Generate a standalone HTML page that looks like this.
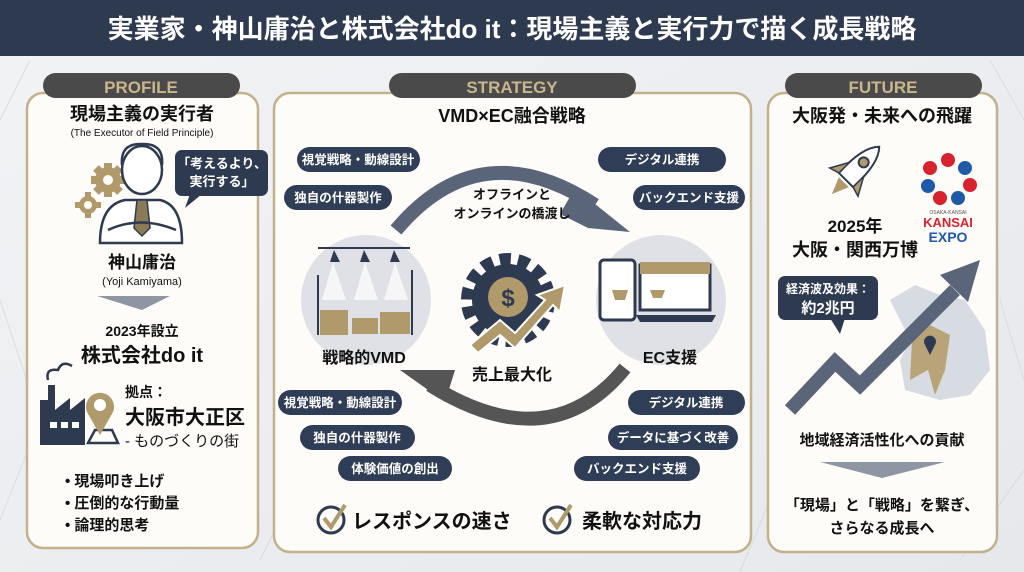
<!DOCTYPE html>
<html><head><meta charset="utf-8"><style>
html,body{margin:0;padding:0;width:1024px;height:572px;overflow:hidden;background:#eef0f3}
svg{display:block}
text{font-family:"Liberation Sans","Noto Sans CJK JP",sans-serif;}
</style></head><body>
<svg width="1024" height="572" viewBox="0 0 1024 572" xmlns="http://www.w3.org/2000/svg">
<defs>
<linearGradient id="bg" x1="0" y1="0" x2="1" y2="1"><stop offset="0" stop-color="#f2f3f5"/><stop offset="1" stop-color="#e6e8ec"/></linearGradient>
</defs>
<rect width="1024" height="572" fill="url(#bg)"/>
<g stroke="#d3d7de" stroke-width="1" fill="none" opacity="0.8">
<path d="M0 300 L40 420 L0 520 M0 120 L30 60 M990 60 L1024 120 M1000 300 L1024 380 M260 560 L300 480 M740 572 L770 500 M960 560 L1024 470"/>
</g>
<!-- header -->
<rect x="0" y="0" width="1024" height="56" fill="#2d3a50"/>
<text x="512" y="38" text-anchor="middle" font-size="26" font-weight="bold" fill="#fff">実業家・神山庸治と株式会社do it：現場主義と実行力で描く成長戦略</text>

<!-- panels -->
<rect x="27" y="93" width="231" height="455" rx="16" fill="#fdfcf9" stroke="#c4b08a" stroke-width="2.5"/>
<rect x="274" y="93" width="477" height="459" rx="16" fill="#fdfcf9" stroke="#c4b08a" stroke-width="2.5"/>
<rect x="768" y="93" width="229" height="459" rx="16" fill="#fdfcf9" stroke="#c4b08a" stroke-width="2.5"/>
<rect x="43" y="73" width="197" height="25" rx="12.5" fill="#4a4a4a"/>
<text x="141" y="93" text-anchor="middle" font-size="17" font-weight="bold" fill="#c9b68d">PROFILE</text>
<rect x="389" y="73" width="247" height="25" rx="12.5" fill="#4a4a4a"/>
<text x="512" y="93" text-anchor="middle" font-size="17" font-weight="bold" fill="#c9b68d">STRATEGY</text>
<rect x="785" y="73" width="197" height="25" rx="12.5" fill="#4a4a4a"/>
<text x="883" y="93" text-anchor="middle" font-size="17" font-weight="bold" fill="#c9b68d">FUTURE</text>

<!-- LEFT -->
<text x="142" y="120" text-anchor="middle" font-size="18" font-weight="bold" fill="#111">現場主義の実行者</text>
<text x="142" y="136" text-anchor="middle" font-size="10" fill="#111">(The Executor of Field Principle)</text>
<!-- gears -->
<g fill="#b09a6b">
<circle cx="108" cy="180" r="13"/>
<rect x="104" y="163" width="8" height="34"/><rect x="91" y="176" width="34" height="8"/>
<rect x="104" y="163" width="8" height="34" transform="rotate(45 108 180)"/><rect x="91" y="176" width="34" height="8" transform="rotate(45 108 180)"/>
<circle cx="88" cy="205" r="9"/>
<rect x="85" y="192" width="6" height="26"/><rect x="75" y="202" width="26" height="6"/>
</g>
<circle cx="108" cy="180" r="5" fill="#fdfcf9"/><circle cx="88" cy="205" r="4" fill="#fdfcf9"/>
<!-- person -->
<g fill="#fff" stroke="#2d3a50" stroke-width="2.5">
<path d="M100 243 Q100 205 125 200 L160 200 Q182 205 182 243 Z"/>
<ellipse cx="142" cy="170" rx="20" ry="24"/>
<path d="M122 165 Q120 143 142 144 Q164 143 162 165" fill="none"/>
</g>
<path d="M137 200 L147 200 L150 228 L142 236 L134 228Z" fill="#8a7a55" stroke="#2d3a50" stroke-width="1.5"/>
<path d="M108 230 Q140 215 176 230" fill="none" stroke="#2d3a50" stroke-width="2.5"/>
<!-- bubble -->
<rect x="175" y="150" width="93" height="46" rx="7" fill="#2d3a50"/>
<path d="M190 194 L185 208 L202 194Z" fill="#2d3a50"/>
<text x="222" y="168" text-anchor="middle" font-size="13" font-weight="bold" fill="#fff">「考えるより、</text>
<text x="222" y="186" text-anchor="middle" font-size="13" font-weight="bold" fill="#fff">実行する」</text>
<text x="142" y="268" text-anchor="middle" font-size="17" font-weight="bold" fill="#111">神山庸治</text>
<text x="142" y="285" text-anchor="middle" font-size="11" fill="#111">(Yoji Kamiyama)</text>
<path d="M97 296 L170 296 L142 310Z" fill="#8f96a3"/>
<text x="142" y="336" text-anchor="middle" font-size="14" font-weight="bold" fill="#111">2023年設立</text>
<text x="142" y="362" text-anchor="middle" font-size="20" font-weight="bold" fill="#111">株式会社do it</text>
<!-- factory -->
<path d="M40 445 L40 400 L48 400 L48 385 L55 385 L55 410 L70 398 L70 410 L85 398 L85 445Z" fill="#2d3a50"/>
<path d="M48 380 Q45 368 58 370 Q62 360 72 366" fill="none" stroke="#2d3a50" stroke-width="2.5"/>
<rect x="50" y="422" width="7" height="6" fill="#fff"/><rect x="61" y="422" width="7" height="6" fill="#fff"/><rect x="72" y="422" width="7" height="6" fill="#fff"/>
<path d="M88 443 L95 430 L112 430 L118 443Z" fill="none" stroke="#2d3a50" stroke-width="2.5"/>
<path d="M100 435 L87 412 A14 14 0 1 1 113 412Z" fill="#b09a6b"/><circle cx="100" cy="405" r="6" fill="#fff"/>
<text x="125" y="397" font-size="14" font-weight="bold" fill="#111">拠点：</text>
<text x="125" y="424" font-size="20" font-weight="bold" fill="#111">大阪市大正区</text>
<text x="125" y="446" font-size="15" fill="#111">- ものづくりの街</text>
<g font-size="15" font-weight="bold" fill="#111">
<text x="65" y="486">•  現場叩き上げ</text>
<text x="65" y="508">•  圧倒的な行動量</text>
<text x="65" y="530">•  論理的思考</text>
</g>

<!-- MIDDLE -->
<text x="512" y="122" text-anchor="middle" font-size="18" font-weight="bold" fill="#111">VMD×EC融合戦略</text>
<g fill="#2f3e56">
<rect x="297" y="147" width="123" height="25" rx="12.5"/>
<rect x="284" y="185" width="108" height="25" rx="12.5"/>
<rect x="598" y="147" width="128" height="25" rx="12.5"/>
<rect x="633" y="185" width="112" height="25" rx="12.5"/>
<rect x="278" y="390" width="124" height="25" rx="12.5"/>
<rect x="300" y="425" width="115" height="25" rx="12.5"/>
<rect x="338" y="456" width="114" height="25" rx="12.5"/>
<rect x="628" y="390" width="117" height="25" rx="12.5"/>
<rect x="608" y="425" width="130" height="25" rx="12.5"/>
<rect x="574" y="456" width="126" height="25" rx="12.5"/>
</g>
<g font-size="12.5" font-weight="bold" fill="#fff" text-anchor="middle">
<text x="358" y="164">視覚戦略・動線設計</text>
<text x="338" y="202">独自の什器製作</text>
<text x="662" y="164">デジタル連携</text>
<text x="689" y="202">バックエンド支援</text>
<text x="340" y="407">視覚戦略・動線設計</text>
<text x="357" y="442">独自の什器製作</text>
<text x="395" y="473">体験価値の創出</text>
<text x="686" y="407">デジタル連携</text>
<text x="673" y="442">データに基づく改善</text>
<text x="637" y="473">バックエンド支援</text>
</g>
<!-- arrows -->
<path d="M396 230 Q480 130 595 205" fill="none" stroke="#5a6579" stroke-width="14"/>
<path d="M575 188 L630 232 L588 228 L560 214Z" fill="#5a6579"/>
<path d="M625 368 Q550 460 430 385" fill="none" stroke="#555" stroke-width="14"/>
<path d="M445 402 L400 370 L455 370Z" fill="#555"/>
<text x="512" y="199" text-anchor="middle" font-size="13" font-weight="bold" fill="#111">オフラインと</text>
<text x="512" y="218" text-anchor="middle" font-size="13" font-weight="bold" fill="#111">オンラインの橋渡し</text>
<!-- circles -->
<circle cx="366" cy="300" r="65" fill="#dfe1e6"/>
<circle cx="661" cy="300" r="65" fill="#dfe1e6"/>
<g stroke="#2d3a50" stroke-width="2" fill="none">
<line x1="318" y1="248" x2="410" y2="248"/>
<path d="M318 275 L318 335 M412 270 L412 335"/>
</g>
<g fill="#2d3a50"><path d="M334 250 L330 262 L340 262Z"/><path d="M364 250 L360 262 L370 262Z"/><path d="M394 250 L390 262 L400 262Z"/></g>
<path d="M333 262 L322 300 L346 300Z M365 262 L354 300 L378 300Z M395 262 L384 300 L408 300Z" fill="#fff" opacity="0.7"/>
<rect x="320" y="310" width="28" height="25" fill="#b09a6b"/><rect x="380" y="312" width="30" height="22" fill="#b09a6b"/><rect x="352" y="318" width="26" height="16" fill="#b09a6b"/>
<text x="364" y="363" text-anchor="middle" font-size="16" font-weight="bold" fill="#111">戦略的VMD</text>
<!-- EC -->
<rect x="600" y="260" width="35" height="60" rx="4" fill="#fff" stroke="#2d3a50" stroke-width="3"/>
<rect x="640" y="265" width="70" height="45" fill="#fff" stroke="#2d3a50" stroke-width="3"/>
<path d="M636 315 L716 315 L712 322 L640 322Z" fill="#2d3a50"/>
<rect x="640" y="262" width="70" height="12" fill="#b09a6b"/>
<path d="M612 290 L628 290 L625 300 L615 300Z M650 290 L665 290 L662 298 L653 298Z" fill="#b09a6b"/>
<text x="670" y="363" text-anchor="middle" font-size="16" font-weight="bold" fill="#111">EC支援</text>
<!-- gear -->
<circle cx="508" cy="300" r="40" fill="none" stroke="#2d3a50" stroke-width="14" stroke-dasharray="11 7"/>
<circle cx="508" cy="300" r="36" fill="#2d3a50"/>
<circle cx="508" cy="297" r="20" fill="#b09a6b"/>
<text x="508" y="306" text-anchor="middle" font-size="24" font-weight="bold" fill="#2d3a50">$</text>
<path d="M470 345 L500 320 L515 333 L545 300 L537 295 L565 285 L560 312 L553 305 L515 348 L500 335 L478 353Z" fill="#b09a6b" stroke="#fff" stroke-width="2"/>
<text x="512" y="380" text-anchor="middle" font-size="16" font-weight="bold" fill="#111">売上最大化</text>
<!-- checks -->
<circle cx="331" cy="520" r="13" fill="none" stroke="#2d3a50" stroke-width="3"/>
<path d="M324 518 L331 527 L345 505" fill="none" stroke="#b09a6b" stroke-width="4"/>
<text x="352" y="528" font-size="20" font-weight="bold" fill="#111">レスポンスの速さ</text>
<circle cx="557" cy="520" r="13" fill="none" stroke="#2d3a50" stroke-width="3"/>
<path d="M550 518 L557 527 L571 505" fill="none" stroke="#b09a6b" stroke-width="4"/>
<text x="582" y="528" font-size="20" font-weight="bold" fill="#111">柔軟な対応力</text>

<!-- RIGHT -->
<text x="882" y="122" text-anchor="middle" font-size="18" font-weight="bold" fill="#111">大阪発・未来への飛躍</text>
<!-- rocket -->
<g transform="rotate(45 858 168)">
<path d="M858 138 Q870 150 868 185 L848 185 Q846 150 858 138Z" fill="#fff" stroke="#2d3a50" stroke-width="2"/>
<circle cx="858" cy="160" r="5" fill="#b09a6b" stroke="#2d3a50" stroke-width="2"/>
<path d="M848 170 L838 188 L848 185Z M868 170 L878 188 L868 185Z" fill="#b09a6b" stroke="#2d3a50" stroke-width="1.5"/>
<path d="M851 188 L858 205 L865 188Z" fill="#b09a6b"/>
</g>
<!-- expo -->
<g>
<circle cx="948" cy="160" r="7" fill="#d8222e"/><circle cx="965" cy="168" r="7" fill="#1f5aa8"/>
<circle cx="970" cy="185" r="7" fill="#d8222e"/><circle cx="958" cy="198" r="7" fill="#1f5aa8"/>
<circle cx="940" cy="198" r="7" fill="#d8222e"/><circle cx="928" cy="186" r="7" fill="#1f5aa8"/>
<circle cx="930" cy="168" r="7" fill="#d8222e"/>
</g>
<text x="948" y="214" text-anchor="middle" font-size="5" fill="#555">OSAKA-KANSAI</text>
<text x="948" y="227" text-anchor="middle" font-size="13" font-weight="bold" fill="#d8222e">KANSAI</text>
<text x="948" y="242" text-anchor="middle" font-size="14" font-weight="bold" fill="#1f5aa8">EXPO</text>
<text x="855" y="232" text-anchor="middle" font-size="17" font-weight="bold" fill="#111">2025年</text>
<text x="855" y="256" text-anchor="middle" font-size="18" font-weight="bold" fill="#111">大阪・関西万博</text>
<!-- map -->
<path d="M890 300 L915 285 L940 295 L965 300 L985 330 L990 370 L970 395 L940 400 L905 390 L900 360 L910 340 Z" fill="#d7dbe2"/>
<path d="M912 340 L930 325 L950 335 L945 370 L935 395 L928 370 L910 380 Z" fill="#b8a478"/>
<path d="M930 355 L925 345 A6 6 0 1 1 935 345Z" fill="#2d3a50"/>
<!-- big arrow -->
<path d="M790 410 L835 362 L860 385 L955 290" fill="none" stroke="#5a6579" stroke-width="14"/>
<path d="M940 275 L980 260 L968 302Z" fill="#5a6579"/>
<rect x="778" y="276" width="100" height="44" rx="7" fill="#2d3a50"/>
<path d="M830 318 L840 334 L845 318Z" fill="#2d3a50"/>
<text x="828" y="293" text-anchor="middle" font-size="12" font-weight="bold" fill="#fff">経済波及効果：</text>
<text x="828" y="313" text-anchor="middle" font-size="15" font-weight="bold" fill="#fff">約2兆円</text>
<text x="882" y="445" text-anchor="middle" font-size="15" font-weight="bold" fill="#111">地域経済活性化への貢献</text>
<path d="M820 462 L945 462 L882 478Z" fill="#8f96a3"/>
<text x="882" y="510" text-anchor="middle" font-size="15" font-weight="bold" fill="#111">「現場」と「戦略」を繋ぎ、</text>
<text x="882" y="533" text-anchor="middle" font-size="15" font-weight="bold" fill="#111">さらなる成長へ</text>
</svg>
</body></html>
